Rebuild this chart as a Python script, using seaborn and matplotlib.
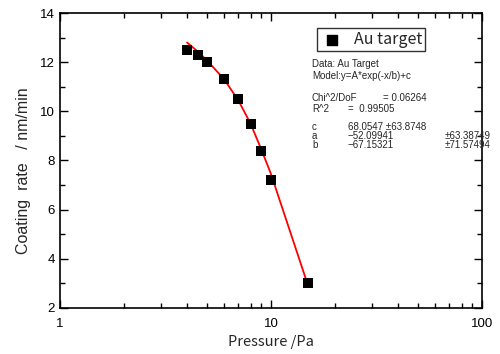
import matplotlib
matplotlib.use("Agg")
import matplotlib.pyplot as plt
import seaborn as sns
import pandas as pd
from matplotlib.ticker import FixedLocator, NullFormatter, FixedFormatter

pressure = [4, 4.5, 5, 6, 7, 8, 9, 10, 15]
rate = [12.5, 12.3, 12.0, 11.3, 10.5, 9.5, 8.4, 7.2, 3.0]

fit_x = [4, 4.5, 5, 6, 7, 8, 9, 10, 15]
fit_y = [12.8, 12.43, 12.05, 11.3, 10.45, 9.5, 8.45, 7.45, 2.9]

x_ticks = [1, 10, 100]
x_tick_labels = ["1", "10", "100"]
y_ticks = [2, 4, 6, 8, 10, 12, 14]

sns.set_style("white")
plt.rcParams['font.family'] = ['Liberation Sans', 'DejaVu Sans']
CJK = ['Noto Sans CJK JP', 'DejaVu Sans']

fig = plt.figure(figsize=(5.0, 3.54), dpi=100)
ax = fig.add_axes([60/500, 1 - 308/354, (482-60)/500, (308-13)/354])

df = pd.DataFrame({"p": pressure, "r": rate})
dfit = pd.DataFrame({"x": fit_x, "y": fit_y})
sns.lineplot(data=dfit, x="x", y="y", ax=ax, color="red", linewidth=1.3, zorder=2)
sns.scatterplot(data=df, x="p", y="r", ax=ax, marker="s", s=55, color="black",
                edgecolor="black", linewidth=0, zorder=3)

ax.set_xscale("log")
ax.set_xlim(1, 100)
ax.set_ylim(2, 14)
ax.xaxis.set_major_locator(FixedLocator(x_ticks))
ax.xaxis.set_major_formatter(FixedFormatter(x_tick_labels))
ax.xaxis.set_minor_locator(FixedLocator([i * d for d in (1, 10) for i in range(2, 10)]))
ax.xaxis.set_minor_formatter(NullFormatter())
ax.yaxis.set_major_locator(FixedLocator(y_ticks))
ax.yaxis.set_minor_locator(FixedLocator([3, 5, 7, 9, 11, 13]))

for s in ax.spines.values():
    s.set_visible(True)
    s.set_color("black")
    s.set_linewidth(1.2)
ax.tick_params(which="both", direction="in", top=True, right=True, bottom=True, left=True,
               colors="black", labelsize=9.5)
ax.tick_params(which="major", length=6, width=1)
ax.tick_params(which="minor", length=3.5, width=1)
ax.tick_params(axis="x", pad=7)

ax.set_xlabel("Pressure /Pa", fontsize=10.5, labelpad=4, family=CJK)
ax.set_ylabel("Coating  rate   / nm/min", fontsize=11.5)
ax.yaxis.set_label_coords(-29/422, (308 - 171) / 295)

# legend box
ax.scatter([], [], marker="s", s=55, color="black", label="Au target")
leg = ax.legend(handles=[ax.collections[-1]], labels=["Au target"], loc="upper left",
                bbox_to_anchor=((317-60)/422, 1 - (28-13)/295), borderaxespad=0,
                prop={"family": CJK, "size": 11.5}, frameon=True, fancybox=False,
                edgecolor="black", handletextpad=0.6, borderpad=0.2, handlelength=1.5)
leg.get_frame().set_linewidth(1.0)

def px(x, y, t, **kw):
    fig.text(x/500, 1 - y/354, t, fontsize=7, va="center", ha="left", **kw)

px(312, 64, "Data: Au Target")
px(312, 76, "Model:y=A*exp(-x/b)+c")
px(312, 98, "Chi^2/DoF")
px(383, 98, "= 0.06264")
px(312, 109, "R^2")
px(348, 109, "=  0.99505")
px(312, 127, "c")
px(348, 127, "68.0547 \u00b163.8748")
px(312, 136, "a")
px(348, 136, "\u221252.09941")
px(445, 136, "\u00b163.38749")
px(312, 145, "b")
px(348, 145, "\u221267.15321")
px(445, 145, "\u00b171.57494")

fig.savefig("out.png", dpi=100)
